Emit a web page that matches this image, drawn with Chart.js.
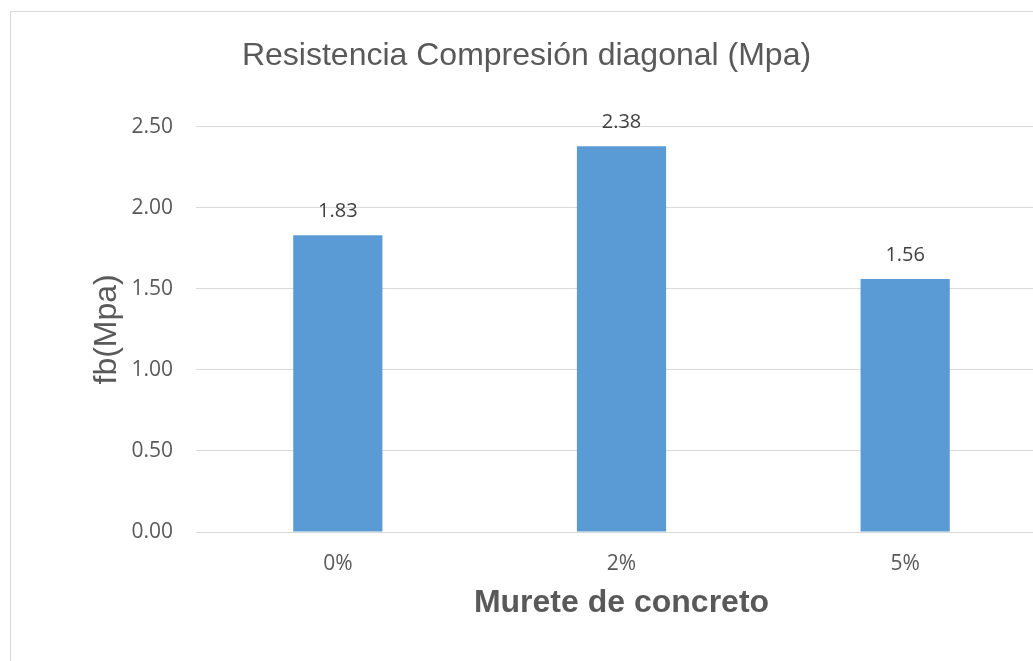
<!DOCTYPE html>
<html>
<head>
<meta charset="utf-8">
<script src="https://cdn.jsdelivr.net/npm/chart.js@4"></script>
<style>
  html, body { margin: 0; padding: 0; background: #ffffff; overflow: hidden; width: 1033px; height: 661px; }
  #frame { position: absolute; left: 10px; top: 11px; width: 1100px; height: 720px; border: 1px solid #d9d9d9; box-sizing: border-box; }
  #chart { position: absolute; left: 0; top: 0; }
</style>
</head>
<body>
<div id="frame"></div>
<canvas id="chart" width="1047" height="700"></canvas>
<script>
// Diagonal compression strength per fibre content
const categories = ['0%', '2%', '5%'];
const strength = [1.83, 2.38, 1.56];
const yTicks = [0, 0.5, 1, 1.5, 2, 2.5];

const chartTitle = 'Resistencia Compresión diagonal (Mpa)';
const xTitle = 'Murete de concreto';
const yTitle = 'fb(Mpa)';

const BAR = '#5b9bd5';
const GRID = '#d9d9d9';
const TEXT = '#595959';

// Value labels above each bar
const valueLabels = {
  id: 'valueLabels',
  afterDatasetsDraw(chart) {
    const ctx = chart.ctx;
    const meta = chart.getDatasetMeta(0);
    ctx.save();
    ctx.font = '20px "Open Sans"';
    ctx.fillStyle = '#404040';
    ctx.textAlign = 'center';
    ctx.textBaseline = 'middle';
    meta.data.forEach((bar, i) => {
      const v = chart.data.datasets[0].data[i];
      ctx.fillText(v.toFixed(2), bar.x, bar.y - 24);
    });
    ctx.restore();
  }
};

new Chart(document.getElementById('chart'), {
  type: 'bar',
  data: {
    labels: categories,
    datasets: [{
      data: strength,
      backgroundColor: BAR,
      borderWidth: 0,
      barPercentage: 1,
      categoryPercentage: 0.3145
    }]
  },
  options: {
    responsive: false,
    animation: false,
    layout: { padding: { left: 6, right: 0, top: 0, bottom: 58 } },
    plugins: {
      legend: { display: false },
      tooltip: { enabled: false },
      title: {
        display: true,
        text: chartTitle,
        color: TEXT,
        font: { family: '"Liberation Sans", Arial, sans-serif', size: 32, weight: 'normal' },
        padding: { top: 36.9, bottom: 51.4 }
      }
    },
    scales: {
      x: {
        grid: { display: false },
        border: { display: true, color: GRID, width: 1 },
        ticks: {
          color: TEXT,
          font: { family: '"Open Sans"', size: 21 },
          padding: 11
        },
        title: {
          display: true,
          text: xTitle,
          color: TEXT,
          font: { family: '"Liberation Sans", Arial, sans-serif', size: 32, weight: 'bold' },
          padding: { top: 0, bottom: 19.7 }
        },
        afterFit(scale) { scale.height = 110; }
      },
      y: {
        min: 0,
        max: 2.5,
        afterBuildTicks(scale) { scale.ticks = yTicks.map(v => ({ value: v })); },
        grid: { color: GRID, lineWidth: 1, drawTicks: false },
        border: { display: false },
        ticks: {
          color: TEXT,
          font: { family: '"Open Sans"', size: 21 },
          padding: 23,
          callback: v => Number(v).toFixed(2)
        },
        title: {
          display: true,
          text: yTitle,
          color: TEXT,
          font: { family: '"Liberation Sans", Arial, sans-serif', size: 32, weight: 'normal' },
          padding: { top: 82.3, bottom: 0 }
        },
        afterFit(scale) { scale.width = 190; }
      }
    }
  },
  plugins: [valueLabels]
});
</script>
</body>
</html>
